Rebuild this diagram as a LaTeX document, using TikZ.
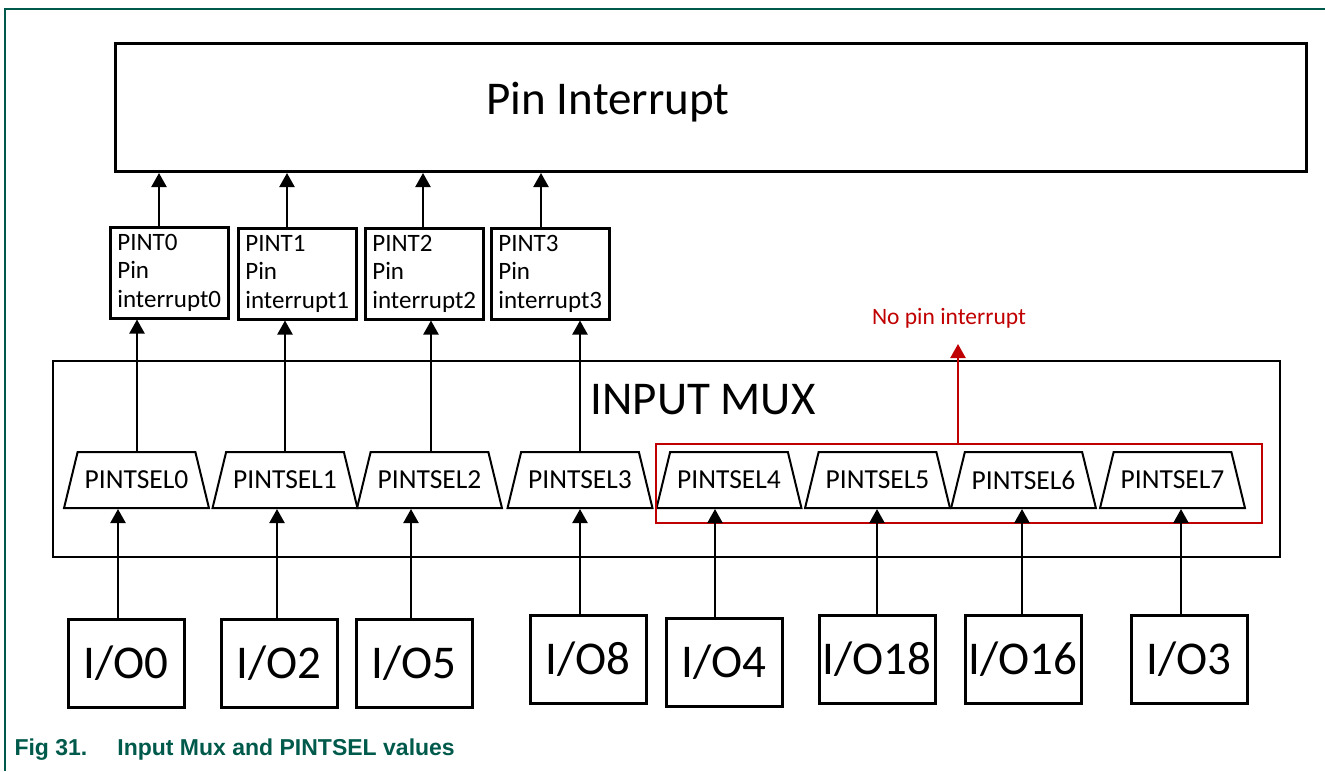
\documentclass[tikz,border=0pt]{standalone}
\usepackage{fontspec}
\setmainfont{Carlito}
\newfontfamily\capfont{Liberation Sans}
\usetikzlibrary{shapes.geometric,arrows.meta}
\definecolor{NxpGreen}{RGB}{0,90,75}
\definecolor{NoRed}{RGB}{192,0,0}
\tikzset{
  pintbox/.style={rectangle,draw,line width=2.5pt,minimum width=118pt,minimum height=91pt,inner sep=5pt,align=left,font=\fontsize{25}{28.5}\selectfont},
  selbox/.style={trapezium,draw,line width=2pt,trapezium left angle=76,trapezium right angle=76,trapezium stretches=true,minimum width=145pt,minimum height=56pt,inner xsep=0pt,inner ysep=15pt,font=\fontsize{27.5}{30}\selectfont},
  iobox/.style={rectangle,draw,line width=2.5pt,minimum width=116pt,minimum height=88pt,anchor=north west,font=\fontsize{47}{50}\selectfont},
  up/.style={line width=2.2pt,-{Triangle[width=15pt,length=14pt]}}
}
\begin{document}
\begin{tikzpicture}[x=1pt,y=-1pt]
  \useasboundingbox (0,0) rectangle (1325,771);
  \draw [NxpGreen,line width=1.2pt] (1325,9) -- (5,9) -- (5,771);

  \node (PinInt) [rectangle,draw,line width=3pt,anchor=north west,minimum width=1191pt,minimum height=128pt] at (114,42) {};
  \node (PinIntText) [font=\fontsize{47}{50}\selectfont] at (608,102) {Pin Interrupt};

  \node (Pint0) [pintbox,anchor=north west] at (109,226) {PINT0\\Pin\\interrupt0};
  \node (Pint1) [pintbox,anchor=north west] at (237,227) {PINT1\\Pin\\interrupt1};
  \node (Pint2) [pintbox,anchor=north west] at (364,227) {PINT2\\Pin\\interrupt2};
  \node (Pint3) [pintbox,anchor=north west] at (490,227) {PINT3\\Pin\\interrupt3};

  \node (InputMux) [rectangle,draw,line width=1.5pt,anchor=north west,minimum width=1227pt,minimum height=196pt] at (52,360) {};
  \node (InputMuxText) [font=\fontsize{47}{50}\selectfont] at (703,400) {INPUT MUX};

  \node (Sel0) [selbox] at (136.5,480) {PINTSEL0};
  \node (Sel1) [selbox] at (285,480) {PINTSEL1};
  \node (Sel2) [selbox] at (429.5,480) {PINTSEL2};
  \node (Sel3) [selbox] at (580,480) {PINTSEL3};
  \node (Sel4) [selbox] at (729,480) {PINTSEL4};
  \node (Sel5) [selbox] at (877.5,480) {PINTSEL5};
  \node (Sel6) [selbox] at (1023.5,480) {PINTSEL6};
  \node (Sel7) [selbox] at (1172.5,480) {PINTSEL7};

  \node (NoPinBox) [rectangle,draw=NoRed,line width=2pt,anchor=north west,minimum width=606pt,minimum height=79pt] at (655,443) {};
  \node (NoPinText) [text=NoRed,font=\fontsize{23.5}{26}\selectfont] at (949,318) {No pin interrupt};
  \coordinate (NoPinTip) at (958,344);

  \node (Io0) [iobox] at (67,618) {I/O0};
  \node (Io2) [iobox] at (220,618) {I/O2};
  \node (Io5) [iobox] at (355,618) {I/O5};
  \node (Io8) [iobox] at (529,614) {I/O8};
  \node (Io4) [iobox] at (665,617) {I/O4};
  \node (Io18) [iobox] at (818,614) {I/O18};
  \node (Io16) [iobox] at (964,614) {I/O16};
  \node (Io3) [iobox] at (1130,614) {I/O3};

  \draw [up] (159,0 |- Pint0.north) -- (159,0 |- PinInt.south);
  \draw [up] (287,0 |- Pint1.north) -- (287,0 |- PinInt.south);
  \draw [up] (423,0 |- Pint2.north) -- (423,0 |- PinInt.south);
  \draw [up] (541,0 |- Pint3.north) -- (541,0 |- PinInt.south);

  \draw [up] (137,0 |- Sel0.north) -- (137,0 |- Pint0.south);
  \draw [up] (285,0 |- Sel1.north) -- (285,0 |- Pint1.south);
  \draw [up] (431,0 |- Sel2.north) -- (431,0 |- Pint2.south);
  \draw [up] (580,0 |- Sel3.north) -- (580,0 |- Pint3.south);

  \draw [up,NoRed] (NoPinTip |- NoPinBox.north) -- (NoPinTip);

  \draw [up] (118,0 |- Io0.north) -- (118,0 |- Sel0.south);
  \draw [up] (277,0 |- Io2.north) -- (277,0 |- Sel1.south);
  \draw [up] (411,0 |- Io5.north) -- (411,0 |- Sel2.south);
  \draw [up] (580,0 |- Io8.north) -- (580,0 |- Sel3.south);
  \draw [up] (715,0 |- Io4.north) -- (715,0 |- Sel4.south);
  \draw [up] (877,0 |- Io18.north) -- (877,0 |- Sel5.south);
  \draw [up] (1022,0 |- Io16.north) -- (1022,0 |- Sel6.south);
  \draw [up] (1181,0 |- Io3.north) -- (1181,0 |- Sel7.south);

  \node (Caption) [anchor=west,text=NxpGreen,font=\capfont\bfseries\fontsize{23}{26}\selectfont] at (11,750) {Fig 31.\hspace{30pt}Input Mux and PINTSEL values};
\end{tikzpicture}
\end{document}
